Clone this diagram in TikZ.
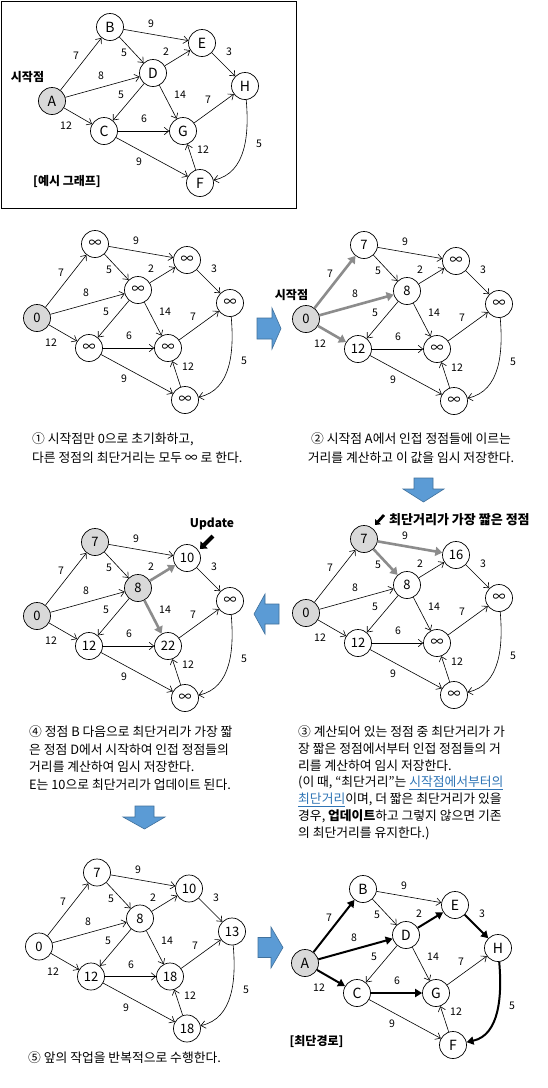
\documentclass[tikz,border=0pt]{standalone}
\usepackage{fontspec}
\setmainfont{Noto Sans CJK KR}
\usetikzlibrary{arrows.meta}
\definecolor{nodegray}{RGB}{217,217,217}
\definecolor{hlgray}{RGB}{140,140,140}
\definecolor{arrowblue}{RGB}{91,155,213}
\definecolor{arrowedge}{RGB}{65,113,156}
\definecolor{linkblue}{RGB}{46,116,181}

\tikzset{
  vtx/.style={circle, draw, line width=0.7pt, minimum size=27pt, inner sep=0pt, fill=white, font=\fontsize{14}{14}\selectfont},
  num/.style={font=\fontsize{13}{13}\selectfont},
  gr/.style={fill=nodegray},
  ed/.style={draw, line width=0.6pt, -{Straight Barb[length=4.5pt,width=7.5pt]}},
  hl/.style={draw=hlgray, line width=2.6pt, -{Triangle[length=7pt,width=9pt]}},
  bk/.style={draw=black, line width=2pt, -{Triangle[length=7pt,width=8pt]}},
  lbl/.style={font=\fontsize{10.5}{10.5}\selectfont, inner sep=0pt},
  blk/.style={fill=arrowblue, draw=arrowedge, line width=0.6pt},
  captxt/.style={anchor=west, inner sep=0pt, font=\fontsize{12.8}{14}\selectfont},
  captc/.style={anchor=center, inner sep=0pt, font=\fontsize{12.8}{14}\selectfont},
  boldtxt/.style={inner sep=0pt, font=\fontsize{12}{12}\selectfont\bfseries},
  fA/.style={}, fB/.style={}, fC/.style={}, fD/.style={},
  fE/.style={}, fF/.style={}, fG/.style={}, fH/.style={},
  eAB/.style={ed}, eAD/.style={ed}, eAC/.style={ed}, eBE/.style={ed},
  eBD/.style={ed}, eDE/.style={ed}, eEH/.style={ed}, eDC/.style={ed},
  eDG/.style={ed}, eGH/.style={ed}, eCG/.style={ed}, eCF/.style={ed},
  eFG/.style={ed}, eHF/.style={ed},
}

\newcommand\drawgraph[9]{%
  \node[vtx,fA] (#1A) at (52,101) {#2};
  \node[vtx,fB] (#1B) at (110,27) {#3};
  \node[vtx,fC] (#1C) at (104,131) {#4};
  \node[vtx,fD] (#1D) at (153,73) {#5};
  \node[vtx,fE] (#1E) at (202,43) {#6};
  \node[vtx,fF] (#1F) at (200,183) {#7};
  \node[vtx,fG] (#1G) at (183,131) {#8};
  \node[vtx,fH] (#1H) at (245,86) {#9};
  \draw[eAB] (#1A) -- (#1B);
  \draw[eAD] (#1A) -- (#1D);
  \draw[eAC] (#1A) -- (#1C);
  \draw[eBE] (#1B) -- (#1E);
  \draw[eBD] (#1B) -- (#1D);
  \draw[eDE] (#1D) -- (#1E);
  \draw[eEH] (#1E) -- (#1H);
  \draw[eDC] (#1D) -- (#1C);
  \draw[eDG] (#1D) -- (#1G);
  \draw[eGH] (#1G) -- (#1H);
  \draw[eCG] (#1C) -- (#1G);
  \draw[eCF] (#1C) -- (#1F);
  \draw[eFG] (#1F) -- (#1G);
  \draw[eHF] (#1H) to[out=-85,in=12] (#1F);
  \node[lbl] (#1lAB) at (76,56) {7};
  \node[lbl] (#1lAD) at (101,76) {8};
  \node[lbl] (#1lAC) at (66,126) {12};
  \node[lbl] (#1lBE) at (151,24) {9};
  \node[lbl] (#1lBD) at (124,53) {5};
  \node[lbl] (#1lDE) at (166,52) {2};
  \node[lbl] (#1lEH) at (229,52) {3};
  \node[lbl] (#1lDC) at (121,95) {5};
  \node[lbl] (#1lDG) at (180,95) {14};
  \node[lbl] (#1lGH) at (208,100) {7};
  \node[lbl] (#1lCG) at (144,119) {6};
  \node[lbl] (#1lCF) at (139,162) {9};
  \node[lbl] (#1lFG) at (203,150) {12};
  \node[lbl] (#1lHF) at (259,144) {5};
}

\begin{document}
\begin{tikzpicture}[x=1pt,y=-1pt]
\useasboundingbox[fill=white] (0,0) rectangle (548,1088);

% ---------- example graph ----------
\draw[line width=0.8pt] (1,1) rectangle (296,208);
\begin{scope}
  \tikzset{fA/.style={gr}}
  \drawgraph{g}{A}{B}{C}{D}{E}{F}{G}{H}
\end{scope}
\node[boldtxt] (t0) at (27.5,77) {시작점};
\node[boldtxt] (t1) at (67,181) {[예시 그래프]};

% ---------- step 1 ----------
\begin{scope}[shift={(-15,217)}]
  \tikzset{fA/.style={gr}, vtx/.append style={num}}
  \drawgraph{s}{0}{∞}{∞}{∞}{∞}{∞}{∞}{∞}
\end{scope}
\node[captxt] (c11) at (32,439) {① 시작점만 0으로 초기화하고,};
\node[captxt] (c12) at (32,457.5) {다른 정점의 최단거리는 모두 ∞ 로 한다.};

% ---------- step 2 ----------
\begin{scope}[shift={(254,218)}]
  \tikzset{fA/.style={gr}, vtx/.append style={num},
    eAB/.style={hl}, eAD/.style={hl}, eAC/.style={hl}}
  \drawgraph{t}{0}{7}{12}{8}{∞}{∞}{∞}{∞}
\end{scope}
\node[boldtxt] (t2) at (291.5,295) {시작점};
\node[captc] (c21) at (411,439) {② 시작점 A에서 인접 정점들에 이르는};
\node[captc] (c22) at (411,458) {거리를 계산하고 이 값을 임시 저장한다.};

% ---------- step 3 (right) ----------
\begin{scope}[shift={(254,512)}]
  \tikzset{fA/.style={gr}, fB/.style={gr}, vtx/.append style={num},
    eBE/.style={hl}, eBD/.style={hl}}
  \drawgraph{u}{0}{7}{12}{8}{16}{∞}{∞}{∞}
\end{scope}
\coordinate (p1) at (384,515);
\coordinate (p2) at (375,525);
\draw[line width=2.8pt, -{Triangle[length=4.5pt,width=7.5pt]}] (p1) -- (p2);
\node[boldtxt, anchor=west, font=\fontsize{13}{13}\selectfont\bfseries] (t3) at (389,520) {최단거리가 가장 짧은 정점};
\node[captxt] (c31) at (298,731.7) {③ 계산되어 있는 정점 중 최단거리가 가};
\node[captxt] (c32) at (298,748.5) {장 짧은 정점에서부터 인접 정점들의 거};
\node[captxt] (c33) at (298,765.5) {리를 계산하여 임시 저장한다.};
\node[captxt] (c34) at (298,782.5) {(이 때, “최단거리”는 \textcolor{linkblue}{\underline{시작점에서부터의}}};
\node[captxt] (c35) at (298,799.5) {\textcolor{linkblue}{\underline{최단거리}}이며, 더 짧은 최단거리가 있을};
\node[captxt] (c36) at (298,816.5) {경우, \textbf{업데이트}하고 그렇지 않으면 기존};
\node[captxt] (c37) at (298,833) {의 최단거리를 유지한다.)};

% ---------- step 4 (left) ----------
\begin{scope}[shift={(-15,515)}]
  \tikzset{fA/.style={gr}, fB/.style={gr}, fD/.style={gr}, vtx/.append style={num},
    eDE/.style={hl}, eDG/.style={hl}}
  \drawgraph{v}{0}{7}{12}{8}{10}{∞}{22}{∞}
\end{scope}
\node[boldtxt] (t4) at (212,524) {Update};
\coordinate (q1) at (213,536);
\coordinate (q2) at (200,549);
\draw[line width=4pt, -{Triangle[length=6pt,width=10pt]}] (q1) -- (q2);
\node[captxt] (c41) at (29,731.7) {④ 정점 B 다음으로 최단거리가 가장 짧};
\node[captxt] (c42) at (29,749.3) {은 정점 D에서 시작하여 인접 정점들의};
\node[captxt] (c43) at (29,766.7) {거리를 계산하여 임시 저장한다.};
\node[captxt] (c44) at (29,785) {E는 10으로 최단거리가 업데이트 된다.};

% ---------- step 5 ----------
\begin{scope}[shift={(-13,845.5)}]
  \tikzset{vtx/.append style={num}}
  \drawgraph{w}{0}{7}{12}{8}{10}{18}{18}{13}
\end{scope}
\node[captxt] (c51) at (28,1058) {⑤ 앞의 작업을 반복적으로 수행한다.};

% ---------- final ----------
\begin{scope}[shift={(253,862)}]
  \tikzset{fA/.style={gr},
    eAB/.style={bk}, eAD/.style={bk}, eAC/.style={bk}, eDE/.style={bk},
    eEH/.style={bk}, eCG/.style={bk}, eHF/.style={bk}}
  \drawgraph{z}{A}{B}{C}{D}{E}{F}{G}{H}
\end{scope}
\node[boldtxt] (t5) at (316.5,1041) {[최단경로]};

% ---------- block arrows ----------
\draw[blk] (257,318) -- (272,318) -- (272,308) -- (281,328.5) -- (272,349) -- (272,339) -- (257,339) -- cycle;
\draw[blk] (414,478) -- (433,478) -- (433,489) -- (444,489) -- (423.5,502) -- (403,489) -- (414,489) -- cycle;
\draw[blk] (279,604) -- (265,604) -- (265,594) -- (254,614) -- (265,634) -- (265,624) -- (279,624) -- cycle;
\draw[blk] (135,806) -- (154,806) -- (154,817) -- (165,817) -- (144.5,829) -- (123,817) -- (135,817) -- cycle;
\draw[blk] (258,937.5) -- (271,937.5) -- (271,927) -- (283,947.5) -- (271,968) -- (271,957.5) -- (258,957.5) -- cycle;
\end{tikzpicture}
\end{document}
